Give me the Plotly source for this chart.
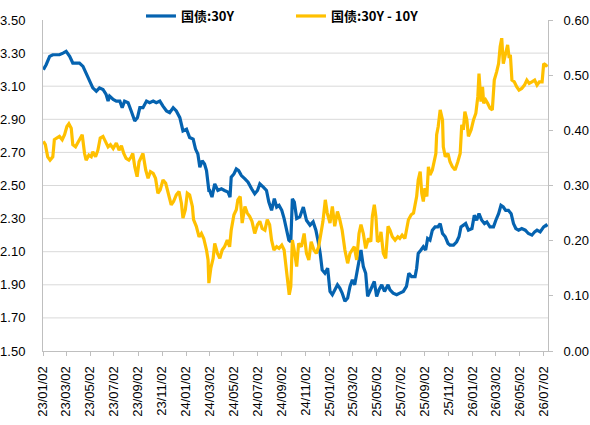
import plotly.graph_objects as go

# ---- data ----
dates_30y = [
    "2023-01-03","2023-01-10","2023-01-19","2023-01-27","2023-02-05","2023-02-13","2023-02-22","2023-03-02",
    "2023-03-11","2023-03-19","2023-03-28","2023-04-05","2023-04-14","2023-04-22","2023-05-01","2023-05-09",
    "2023-05-18","2023-05-26","2023-06-04","2023-06-12","2023-06-17","2023-06-21","2023-06-30","2023-07-08",
    "2023-07-17","2023-07-23","2023-07-29","2023-08-07","2023-08-15","2023-08-24","2023-08-31","2023-09-06",
    "2023-09-14","2023-09-23","2023-10-01","2023-10-10","2023-10-18","2023-10-27","2023-11-04","2023-11-13",
    "2023-11-21","2023-11-30","2023-12-08","2023-12-17","2023-12-25","2024-01-03","2024-01-11","2024-01-20",
    "2024-01-26","2024-02-01","2024-02-06","2024-02-12","2024-02-18","2024-02-23","2024-02-29",
    "2024-03-02","2024-03-08","2024-03-15","2024-03-23","2024-04-01","2024-04-09","2024-04-18","2024-04-23",
    "2024-04-26","2024-05-03","2024-05-09","2024-05-15","2024-05-22","2024-05-31","2024-06-08","2024-06-17",
    "2024-06-25","2024-07-02","2024-07-08","2024-07-17","2024-07-25","2024-07-31","2024-08-07","2024-08-14",
    "2024-08-20","2024-08-26","2024-09-02","2024-09-08","2024-09-14","2024-09-20","2024-09-25","2024-09-29",
    "2024-10-04","2024-10-10","2024-10-18","2024-10-27","2024-11-04","2024-11-13","2024-11-21","2024-11-28",
    "2024-12-04","2024-12-09","2024-12-14","2024-12-21","2024-12-28","2025-01-03","2025-01-09","2025-01-15",
    "2025-01-22","2025-01-28","2025-02-03","2025-02-10","2025-02-17","2025-02-23","2025-03-01","2025-03-07",
    "2025-03-12","2025-03-18","2025-03-23","2025-03-29","2025-04-04","2025-04-09","2025-04-15","2025-04-21",
    "2025-04-26","2025-05-02","2025-05-08",
    "2025-05-15","2025-05-22","2025-05-31","2025-06-05","2025-06-13","2025-06-22","2025-06-30","2025-07-09",
    "2025-07-17","2025-07-23","2025-07-30","2025-08-08","2025-08-12","2025-08-16","2025-08-23","2025-08-29",
    "2025-09-04","2025-09-09","2025-09-15","2025-09-21","2025-09-28","2025-10-05","2025-10-11","2025-10-17",
    "2025-10-24","2025-10-31","2025-11-05","2025-11-14","2025-11-22","2025-11-28","2025-12-03","2025-12-09",
    "2025-12-15","2025-12-22","2025-12-31","2026-01-06","2026-01-12","2026-01-18","2026-01-25","2026-02-01",
    "2026-02-07","2026-02-15","2026-02-24","2026-03-02","2026-03-09","2026-03-15","2026-03-21","2026-03-27",
    "2026-04-03","2026-04-10","2026-04-16","2026-04-22","2026-04-29","2026-05-07","2026-05-16","2026-05-24",
    "2026-06-02","2026-06-09","2026-06-15","2026-06-23","2026-07-02","2026-07-08","2026-07-11",
]
yield_30y = [
    3.20,3.23,3.28,3.29,3.29,3.29,3.30,3.31,
    3.28,3.24,3.24,3.24,3.22,3.18,3.14,3.09,
    3.07,3.09,3.08,3.05,3.01,3.04,3.02,3.01,
    3.01,2.97,3.01,3.00,2.95,2.89,2.91,2.97,
    2.97,3.01,3.00,3.01,3.00,3.01,2.98,2.95,
    2.94,2.97,2.95,2.91,2.83,2.84,2.79,2.78,
    2.72,2.69,2.61,2.65,2.63,2.59,2.47,
    2.47,2.43,2.51,2.47,2.48,2.47,2.46,2.43,
    2.55,2.57,2.60,2.59,2.56,2.54,2.52,2.48,
    2.45,2.47,2.51,2.49,2.47,2.40,2.35,2.42,
    2.37,2.38,2.35,2.30,2.24,2.17,2.16,2.42,
    2.40,2.30,2.31,2.37,2.29,2.26,2.28,2.23,
    2.16,2.09,1.99,1.97,2.00,1.86,1.84,1.87,
    1.90,1.88,1.85,1.80,1.82,1.89,1.93,1.90,
    1.97,2.05,2.11,2.01,1.97,1.83,1.86,1.89,
    1.92,1.83,1.87,
    1.90,1.86,1.90,1.87,1.85,1.84,1.85,1.86,
    1.89,1.97,1.95,1.95,2.00,2.09,2.11,2.13,
    2.11,2.18,2.17,2.23,2.25,2.25,2.27,2.21,
    2.19,2.15,2.14,2.14,2.16,2.19,2.25,2.26,
    2.27,2.23,2.24,2.32,2.29,2.33,2.29,2.27,
    2.28,2.25,2.25,2.29,2.33,2.38,2.37,2.35,
    2.35,2.33,2.27,2.24,2.23,2.24,2.23,2.21,
    2.20,2.22,2.23,2.22,2.25,2.26,2.25,
]

dates_spread = [
    "2023-01-03","2023-01-08","2023-01-14","2023-01-20","2023-01-27","2023-01-31","2023-02-06","2023-02-13",
    "2023-02-20","2023-02-26","2023-03-04","2023-03-09","2023-03-15","2023-03-19","2023-03-26","2023-04-01",
    "2023-04-07","2023-04-12","2023-04-18","2023-04-22","2023-04-29","2023-05-05","2023-05-09","2023-05-16",
    "2023-05-22","2023-05-28","2023-06-04","2023-06-11","2023-06-17","2023-06-23","2023-06-30","2023-07-08",
    "2023-07-15","2023-07-21","2023-07-27","2023-08-02","2023-08-09","2023-08-15","2023-08-19","2023-08-24",
    "2023-08-30","2023-09-04","2023-09-10","2023-09-14","2023-09-21","2023-09-27","2023-10-03","2023-10-10",
    "2023-10-16","2023-10-22","2023-10-28","2023-11-04","2023-11-11","2023-11-17","2023-11-25","2023-12-01",
    "2023-12-08","2023-12-15","2023-12-21","2023-12-25","2023-12-31","2024-01-05","2024-01-11","2024-01-18",
    "2024-01-21","2024-01-28","2024-02-04","2024-02-10","2024-02-16","2024-02-23","2024-02-27","2024-02-29",
    "2024-03-05","2024-03-11","2024-03-15","2024-03-22","2024-03-28","2024-04-03","2024-04-09","2024-04-16",
    "2024-04-22","2024-04-26","2024-05-03","2024-05-09","2024-05-13","2024-05-19","2024-05-24","2024-05-31",
    "2024-06-06","2024-06-12","2024-06-18","2024-06-25","2024-07-02","2024-07-08","2024-07-14","2024-07-21",
    "2024-07-27","2024-08-02","2024-08-07","2024-08-13","2024-08-20","2024-08-26","2024-09-02","2024-09-08",
    "2024-09-12","2024-09-17","2024-09-21","2024-09-25","2024-09-29","2024-10-05","2024-10-10","2024-10-15",
    "2024-10-22","2024-10-29","2024-11-04","2024-11-10","2024-11-16","2024-11-23","2024-11-29","2024-12-05",
    "2024-12-10","2024-12-16","2024-12-22","2024-12-27","2025-01-03","2025-01-09","2025-01-15","2025-01-22",
    "2025-01-28","2025-02-03","2025-02-10","2025-02-17","2025-02-23","2025-03-01","2025-03-06","2025-03-12",
    "2025-03-18","2025-03-23","2025-03-29","2025-04-04","2025-04-11","2025-04-17","2025-04-21","2025-04-26",
    "2025-04-30","2025-05-04","2025-05-10",
    "2025-05-13","2025-05-19","2025-05-25","2025-05-31","2025-06-05","2025-06-11","2025-06-18","2025-06-25",
    "2025-06-30","2025-07-06","2025-07-13","2025-07-17","2025-07-22","2025-07-29","2025-08-04","2025-08-08",
    "2025-08-12","2025-08-16","2025-08-21","2025-08-25","2025-08-29","2025-09-02","2025-09-07","2025-09-11",
    "2025-09-15","2025-09-21","2025-09-26","2025-09-30","2025-10-02","2025-10-06","2025-10-11","2025-10-17",
    "2025-10-19","2025-10-24","2025-10-31","2025-11-05","2025-11-11","2025-11-18","2025-11-25","2025-12-01",
    "2025-12-05","2025-12-09","2025-12-13","2025-12-18","2025-12-22","2025-12-29","2026-01-04","2026-01-10",
    "2026-01-15","2026-01-18","2026-01-23","2026-01-27","2026-01-30","2026-02-04","2026-02-09","2026-02-15",
    "2026-02-21","2026-02-26","2026-03-04","2026-03-09","2026-03-13","2026-03-17","2026-03-21","2026-03-27",
    "2026-04-01","2026-04-05","2026-04-08","2026-04-12","2026-04-18","2026-04-24","2026-04-30","2026-05-07",
    "2026-05-14","2026-05-20","2026-05-26","2026-06-02","2026-06-09","2026-06-15","2026-06-21","2026-06-28",
    "2026-07-02","2026-07-08","2026-07-11",
]
spread_30y_10y = [
    0.380,0.374,0.352,0.346,0.352,0.383,0.386,0.389,
    0.383,0.392,0.407,0.412,0.404,0.374,0.370,0.377,
    0.386,0.392,0.358,0.346,0.355,0.352,0.361,0.352,
    0.364,0.386,0.389,0.377,0.370,0.374,0.367,0.377,
    0.364,0.372,0.358,0.349,0.346,0.352,0.358,0.334,
    0.316,0.343,0.352,0.358,0.328,0.313,0.325,0.322,
    0.313,0.286,0.292,0.310,0.304,0.286,0.265,0.271,
    0.283,0.289,0.268,0.241,0.256,0.286,0.283,0.262,
    0.238,0.226,0.207,0.213,0.204,0.183,0.165,0.123,
    0.150,0.168,0.195,0.177,0.168,0.183,0.189,0.201,
    0.189,0.219,0.247,0.256,0.274,0.280,0.232,0.262,
    0.250,0.244,0.235,0.213,0.229,0.235,0.222,0.219,
    0.238,0.229,0.201,0.183,0.189,0.186,0.192,0.183,
    0.159,0.132,0.102,0.117,0.201,0.177,0.153,0.195,
    0.189,0.213,0.177,0.165,0.198,0.183,0.177,0.189,
    0.213,0.235,0.274,0.250,0.232,0.262,0.226,0.253,
    0.238,0.219,0.183,0.159,0.177,0.183,0.189,0.165,
    0.213,0.229,0.213,0.186,0.204,0.198,0.244,0.265,
    0.244,0.198,0.201,
    0.216,0.177,0.168,0.226,0.219,0.207,0.201,0.207,
    0.204,0.210,0.204,0.219,0.238,0.247,0.250,0.265,
    0.280,0.310,0.325,0.286,0.271,0.295,0.280,0.334,
    0.319,0.328,0.346,0.358,0.392,0.407,0.437,0.419,
    0.370,0.352,0.358,0.343,0.334,0.328,0.343,0.358,
    0.410,0.401,0.434,0.419,0.389,0.401,0.419,0.431,
    0.461,0.503,0.452,0.479,0.449,0.455,0.449,0.440,
    0.437,0.491,0.506,0.521,0.552,0.567,0.521,0.540,
    0.555,0.531,0.537,0.491,0.488,0.479,0.473,0.476,
    0.482,0.491,0.485,0.488,0.491,0.482,0.488,0.488,
    0.521,0.518,0.515,
]

left_ticks = [1.50, 1.70, 1.90, 2.10, 2.30, 2.50, 2.70, 2.90, 3.10, 3.30, 3.50]
right_ticks = [0.00, 0.10, 0.20, 0.30, 0.40, 0.50, 0.60]
x_ticks = ["2023-01-02","2023-03-02","2023-05-02","2023-07-02","2023-09-02","2023-11-02",
           "2024-01-02","2024-03-02","2024-05-02","2024-07-02","2024-09-02","2024-11-02",
           "2025-01-02","2025-03-02","2025-05-02","2025-07-02","2025-09-02","2025-11-02",
           "2026-01-02","2026-03-02","2026-05-02","2026-07-02"]
x_range = ["2023-01-02", "2026-07-13"]

BLUE = "#0563B0"
GOLD = "#FFC000"
AXIS = "#BFBFBF"
GRID = "#D9D9D9"
TICKFONT = dict(family="Liberation Sans, Arial, sans-serif", size=13, color="#000000")

fig = go.Figure()
fig.add_trace(go.Scatter(
    x=dates_spread, y=spread_30y_10y, name="国债:30Y - 10Y", yaxis="y2",
    mode="lines", line=dict(color=GOLD, width=3.2), legendrank=2,
))
fig.add_trace(go.Scatter(
    x=dates_30y, y=yield_30y, name="国债:30Y", yaxis="y",
    mode="lines", line=dict(color=BLUE, width=3.2), legendrank=1,
))

shapes = []
for v in left_ticks[1:-1]:
    shapes.append(dict(type="line", xref="paper", x0=0, x1=1, yref="y", y0=v, y1=v,
                       line=dict(color=GRID, width=1), layer="below"))

fig.update_layout(
    width=590, height=425,
    margin=dict(l=43, r=42, t=20, b=74, autoexpand=False),
    plot_bgcolor="white", paper_bgcolor="white",
    showlegend=True,
    legend=dict(orientation="h", x=0.194, y=1.012, xanchor="left", yanchor="middle",
                font=dict(family="Noto Sans CJK SC, sans-serif", size=13, color="#000000", weight="bold"),
                entrywidth=105, entrywidthmode="pixels", bgcolor="rgba(0,0,0,0)"),
    shapes=shapes,
    xaxis=dict(
        type="date", range=x_range, tickvals=x_ticks, tickformat="%y/%m/%d",
        tickangle=-90, tickfont=TICKFONT, ticks="outside", ticklen=4, tickcolor=AXIS,
        showline=True, linecolor=AXIS, linewidth=1, showgrid=False, zeroline=False,
        ticklabelstandoff=5, automargin=False,
    ),
    yaxis=dict(
        range=[1.5, 3.5], tickvals=left_ticks, tickformat=".2f", tickfont=TICKFONT,
        showline=True, linecolor=AXIS, linewidth=1, showgrid=False, zeroline=False,
        ticks="", ticklabelstandoff=14, automargin=False,
    ),
    yaxis2=dict(
        range=[0, 0.6], tickvals=right_ticks, tickformat=".2f", tickfont=TICKFONT,
        overlaying="y", side="right", showline=True, linecolor=AXIS, linewidth=1,
        showgrid=False, zeroline=False, ticks="outside", ticklen=4, tickcolor=AXIS,
        ticklabelstandoff=8, automargin=False,
    ),
)

fig.write_html("out.html")
